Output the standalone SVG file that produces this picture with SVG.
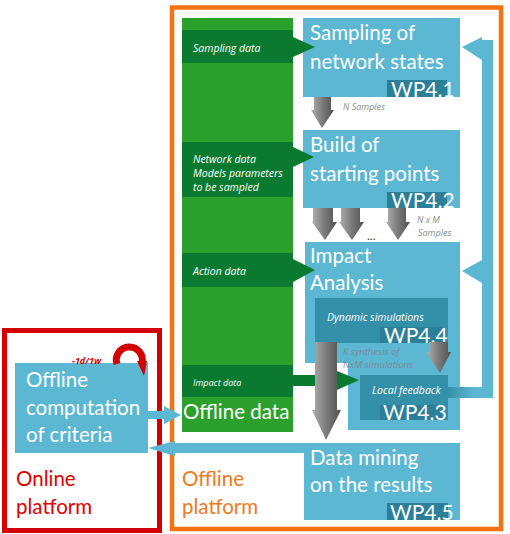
<svg xmlns="http://www.w3.org/2000/svg" width="510" height="534" viewBox="0 0 510 534">
<style>
.t{font-family:Lato,"Open Sans",sans-serif;fill:#fff;font-size:20.5px}
.wp{font-family:Lato,"Open Sans",sans-serif;fill:#fff;font-size:21px}
.s{font-family:"Open Sans",Lato,sans-serif;font-style:italic;fill:#fff;font-size:10.5px}
.g{font-family:"Open Sans",Lato,sans-serif;font-style:italic;fill:#8a8a8a;font-size:9px}
.lb{fill:#5bb7d2}
.dk{fill:#348fa8}
.wpb{fill:#2c7f98}
.band{fill:#0a7a30}
.garr{fill:url(#gray)}
</style>
<defs>
<linearGradient id="gray" x1="0" y1="0" x2="1" y2="0">
<stop offset="0" stop-color="#b0b0b0"/>
<stop offset="0.5" stop-color="#7a7a7a"/>
<stop offset="1" stop-color="#505050"/>
</linearGradient>
<linearGradient id="fb" x1="0" y1="0" x2="1" y2="0">
<stop offset="0" stop-color="#348fa8"/>
<stop offset="0.6" stop-color="#5bb7d2"/>
</linearGradient>
</defs>

<g id="frames">
<rect x="172" y="7.5" width="329" height="521.5" fill="none" stroke="#f57313" stroke-width="4.5"/>
<rect x="4.5" y="330.5" width="155" height="200" fill="none" stroke="#d40000" stroke-width="5"/>
</g>

<g id="offline-data">
<rect x="182" y="18" width="111" height="414" fill="#2ca02c"/>
<rect class="band" x="182" y="30" width="111" height="33"/>
<rect class="band" x="182" y="142" width="111" height="55"/>
<rect class="band" x="182" y="253" width="111" height="34"/>
<rect class="band" x="182" y="365" width="111" height="32"/>
<text class="s" x="193" y="52">Sampling data</text>
<text class="s" x="193" y="163">Network data</text>
<text class="s" x="193" y="177">Models parameters</text>
<text class="s" x="193" y="191">to be sampled</text>
<text class="s" x="193" y="275">Action data</text>
<text class="s" x="193" y="386" style="font-size:9px">Impact data</text>
<text class="t" x="183" y="419">Offline data</text>
</g>

<g id="wp41">
<rect class="lb" x="303" y="18" width="157" height="79"/>
<text class="t" x="310" y="40">Sampling of</text>
<text class="t" x="310" y="69">network states</text>
<rect class="wpb" x="387" y="80" width="60" height="17"/>
<text class="wp" x="391" y="97">WP4.1</text>
</g>

<g id="wp42">
<rect class="lb" x="303" y="130" width="157" height="78"/>
<text class="t" x="310" y="152">Build of</text>
<text class="t" x="310" y="181">starting points</text>
<rect class="wpb" x="387" y="192" width="60" height="16"/>
<text class="wp" x="391" y="208">WP4.2</text>
</g>

<g id="impact">
<rect class="lb" x="305" y="242" width="155" height="121"/>
<rect class="lb" x="348" y="363" width="112" height="67"/>
<text class="t" x="310" y="263">Impact</text>
<text class="t" x="310" y="290">Analysis</text>
</g>

<g id="wp44">
<rect class="dk" x="315" y="298" width="133" height="45"/>
<text class="s" x="327" y="321">Dynamic simulations</text>
<rect class="wpb" x="380" y="327" width="63" height="16"/>
<text class="wp" x="384" y="343">WP4.4</text>
</g>

<g id="wp43">
<rect class="dk" x="360" y="375" width="88" height="45"/>
<text class="s" x="372" y="394">Local feedback</text>
<rect class="wpb" x="380" y="405" width="62" height="15"/>
<text class="wp" x="383" y="420">WP4.3</text>
</g>

<g id="wp45">
<rect class="lb" x="304" y="443" width="156" height="77"/>
<text class="t" x="310" y="465">Data mining</text>
<text class="t" x="310" y="492">on the results</text>
<rect class="wpb" x="387" y="503" width="61" height="17"/>
<text class="wp" x="390" y="520">WP4.5</text>
</g>

<g id="offline-computation">
<rect class="lb" x="15" y="363" width="133" height="90"/>
<text class="t" x="26" y="387">Offline</text>
<text class="t" x="26" y="415">computation</text>
<text class="t" x="26" y="442">of criteria</text>
</g>

<g id="labels">
<text x="16" y="486" style="font-family:Lato,'Open Sans',sans-serif;font-size:20.5px;fill:#e00000">Online</text>
<text x="16" y="514" style="font-family:Lato,'Open Sans',sans-serif;font-size:20.5px;fill:#e00000">platform</text>
<text x="182" y="486" style="font-family:Lato,'Open Sans',sans-serif;font-size:20.5px;fill:#f07a1e">Offline</text>
<text x="182" y="514" style="font-family:Lato,'Open Sans',sans-serif;font-size:20.5px;fill:#f07a1e">platform</text>
<text class="g" x="343" y="110">N Samples</text>
<text class="g" x="417" y="223">N x M</text>
<text class="g" x="418" y="236">Samples</text>
<text x="367" y="240" style="font-family:Lato,sans-serif;font-size:12px;fill:#333">...</text>
<text class="g" x="343" y="355" style="fill:#7f8a99;font-size:9.5px">K synthesis of</text>
<text class="g" x="343" y="368" style="fill:#7f8a99;font-size:9.5px">NxM simulations</text>
<text x="72" y="364" style="font-family:'Open Sans',sans-serif;font-style:italic;font-weight:bold;font-size:9px;fill:#d40000">-1d/1w</text>
</g>

<g id="connectors">
<polygon fill="#0a7a30" points="293,37 315,47 293,57"/>
<polygon fill="#0a7a30" points="293,147 314,157 293,167"/>
<polygon fill="#0a7a30" points="293,259 315,270 293,282"/>
<polygon fill="#0a7a30" points="293,375 337,375 337,371 359,380 337,390 337,386 293,386"/>
<polygon class="garr" points="314,97 331,97 331,110 334,110 322,128 311,110 314,110"/>
<polygon class="garr" points="313,208 333,208 333,222 337,222 325,240 312,222 313,222"/>
<polygon class="garr" points="341,208 360,208 360,222 364,222 352,240 339,222 341,222"/>
<polygon class="garr" points="388,208 406,208 406,222 410,222 398,240 386,222 388,222"/>
<polygon class="garr" points="315,342 337,342 337,410 341,410 326,440 312,410 315,410"/>
<polygon class="garr" points="429,342 448,342 448,352 451,352 440,373 426,352 429,352"/>
<path d="M117,364 A13,13 0 1 1 142,363" fill="none" stroke="#d40000" stroke-width="7"/>
<polygon fill="#d40000" points="137,361 147,361 144,376"/>
<rect x="447" y="387" width="46" height="11" fill="url(#fb)"/>
<rect class="lb" x="482" y="40" width="11" height="358"/>
<polygon class="lb" points="462,47 482,37 482,60"/>
<polygon class="lb" points="462,271 482,260 482,283"/>
<polygon class="lb" points="148,411 164,411 164,406 181,415 164,424 164,419 148,419"/>
<polygon class="lb" points="304,443 304,453 175,453 175,456 148,448 175,441 175,443"/>
</g>
</svg>
